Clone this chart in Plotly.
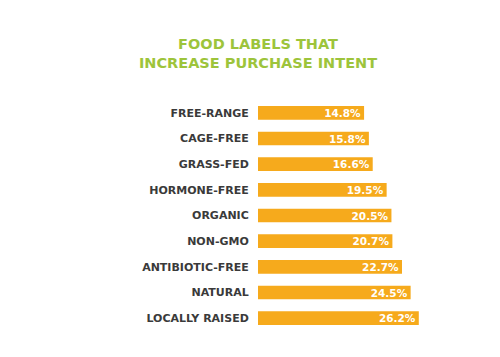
import plotly.graph_objects as go

categories = ["FREE-RANGE", "CAGE-FREE", "GRASS-FED", "HORMONE-FREE", "ORGANIC",
              "NON-GMO", "ANTIBIOTIC-FREE", "NATURAL", "LOCALLY RAISED"]
values = [14.8, 15.8, 16.6, 19.5, 20.5, 20.7, 22.7, 24.5, 26.2]
value_labels = [f"{v:.1f}%" for v in values]

title_text = "FOOD LABELS THAT<br>INCREASE PURCHASE INTENT"

BAR_COLOR = "#F6AA1C"
TITLE_COLOR = "#9DC43B"
LABEL_COLOR = "#3A3A3A"
BASE = -7.3

fig = go.Figure(go.Bar(
    y=categories,
    x=[v - BASE for v in values],
    base=BASE,
    orientation="h",
    marker=dict(color=BAR_COLOR, line=dict(width=0)),
    text=value_labels,
    textposition="inside",
    insidetextanchor="end",
    textfont=dict(family="DejaVu Sans", size=10.5, color="white", weight="bold"),
    width=0.53,
    hoverinfo="skip",
))

fig.update_layout(
    width=500, height=357,
    margin=dict(l=250, r=48, t=92, b=34),
    paper_bgcolor="white", plot_bgcolor="white",
    showlegend=False,
    title=dict(
        text=title_text,
        x=0.5, xref="container", xanchor="center",
        y=1 - 41 / 357, yref="container", yanchor="top",
        font=dict(family="DejaVu Sans", size=14.5, color=TITLE_COLOR, weight="bold"),
    ),
    xaxis=dict(range=[BASE, BASE + 202 / 4.8], visible=False, fixedrange=True),
    yaxis=dict(
        autorange="reversed",
        showgrid=False, zeroline=False, showline=False,
        ticks="outside", ticklen=6, tickcolor="rgba(0,0,0,0)",
        tickfont=dict(family="DejaVu Sans", size=11, color=LABEL_COLOR, weight="bold"),
    ),
    uniformtext=dict(minsize=8, mode="show"),
)

fig.write_html("out.html")
